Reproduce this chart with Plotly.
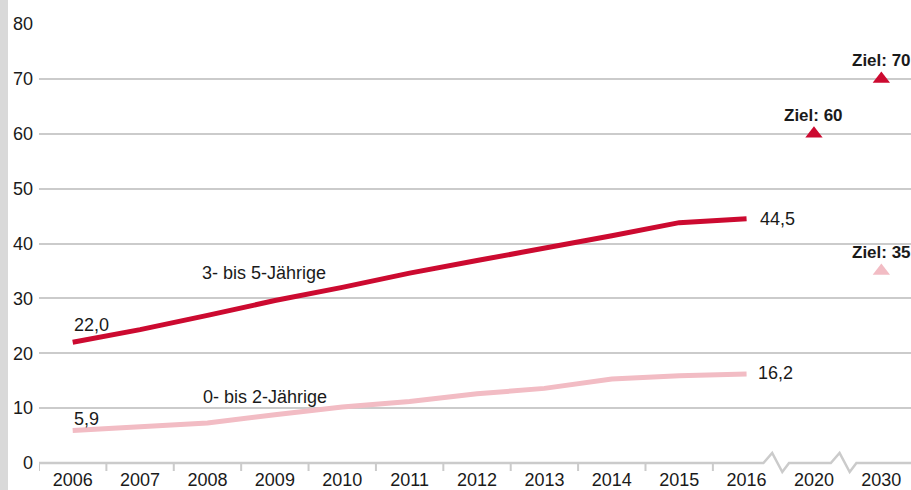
import plotly.graph_objects as go

# Betreuungsquoten nach Altersgruppe, in Prozent
years = ["2006", "2007", "2008", "2009", "2010", "2011", "2012",
         "2013", "2014", "2015", "2016", "2020", "2030"]
hist_years = years[:11]
age_3_5 = [22.0, 24.3, 26.9, 29.6, 32.0, 34.6, 36.9, 39.1, 41.4, 43.8, 44.5]
age_0_2 = [5.9, 6.5, 7.3, 8.8, 10.2, 11.2, 12.6, 13.6, 15.3, 15.9, 16.2]

# Zielwerte
goal_3_5_years = ["2020", "2030"]
goal_3_5 = [60, 70]
goal_0_2_years = ["2030"]
goal_0_2 = [35]

y_ticks = [0, 10, 20, 30, 40, 50, 60, 70, 80]

RED = "#cc0a30"
PINK = "#f2bcc4"
GRID = "#cbcbcb"
TEXT = "#1a1a1a"
FONT = "Liberation Sans, Arial, sans-serif"

W, H = 911, 490
L, R, T, B = 39, 0, 24, 27
plot_w = W - L - R
plot_h = H - T - B
x_range = [-0.5, 12.44]


def cat(label):
    """Serial number of a category on the x axis."""
    return years.index(label)


def fmt(v):
    return f"{v:.1f}".replace(".", ",")


fig = go.Figure()

fig.add_trace(go.Scatter(x=hist_years, y=age_3_5, mode="lines",
                         line=dict(color=RED, width=5), hoverinfo="skip"))
fig.add_trace(go.Scatter(x=hist_years, y=age_0_2, mode="lines",
                         line=dict(color=PINK, width=5), hoverinfo="skip"))
fig.add_trace(go.Scatter(x=goal_3_5_years, y=goal_3_5, mode="markers",
                         marker=dict(symbol="triangle-up", size=15, color=RED),
                         hoverinfo="skip"))
fig.add_trace(go.Scatter(x=goal_0_2_years, y=goal_0_2, mode="markers",
                         marker=dict(symbol="triangle-up", size=15, color=PINK),
                         hoverinfo="skip"))

ann = []
# first / last values
ann.append(dict(x=cat(hist_years[0]), y=age_3_5[0], text=fmt(age_3_5[0]),
                xanchor="left", yanchor="middle", xshift=-1, yshift=17))
ann.append(dict(x=cat(hist_years[0]), y=age_0_2[0], text=fmt(age_0_2[0]),
                xanchor="left", yanchor="middle", xshift=-1, yshift=12))
ann.append(dict(x=cat(hist_years[-1]), y=age_3_5[-1], text=fmt(age_3_5[-1]),
                xanchor="left", yanchor="middle", xshift=11, yshift=0))
ann.append(dict(x=cat(hist_years[-1]), y=age_0_2[-1], text=fmt(age_0_2[-1]),
                xanchor="left", yanchor="middle", xshift=9, yshift=1))
# series names
ann.append(dict(x=2.84, y=34.6, text="3- bis 5-Jährige", xanchor="center", yanchor="middle"))
ann.append(dict(x=2.85, y=12.0, text="0- bis 2-Jährige", xanchor="center", yanchor="middle"))
# goals
for yr, v in list(zip(goal_3_5_years, goal_3_5)) + list(zip(goal_0_2_years, goal_0_2)):
    ann.append(dict(x=cat(yr), y=v, text=f"<b>Ziel: {v}</b>", xanchor="center",
                    yanchor="middle", yshift=18, font=dict(size=17, color=TEXT, family=FONT)))
for a in ann:
    a.setdefault("font", dict(size=18, color=TEXT, family=FONT))
    a.update(showarrow=False, xref="x", yref="y")

# baseline with axis breaks between 2016|2020 and 2020|2030
up = 10 / plot_h
down = -9 / plot_h
breaks = [10.5, 11.5]
path = f"M {x_range[0]},0"
for b in breaks:
    path += f" L {b-0.25},0 L {b-0.12},{up} L {b+0.03},{down} L {b+0.13},0"
path += f" L {x_range[1]},0"

tick_len = 8 / plot_h
tick_path = " ".join(f"M {i-0.5},0 L {i-0.5},{-tick_len}" for i in range(len(hist_years)))

shapes = [
    dict(type="path", path=path, xref="x", yref="paper",
         line=dict(color=GRID, width=2.5), layer="above"),
    dict(type="path", path=tick_path, xref="x", yref="paper",
         line=dict(color=GRID, width=2), layer="above"),
    # grey strip at the left page edge
    dict(type="rect", xref="paper", yref="paper",
         x0=-L / plot_w, x1=-(L - 8) / plot_w, y0=-B / plot_h - 0.01, y1=1 + T / plot_h + 0.01,
         fillcolor="#d9d9d9", line=dict(width=0), layer="below"),
]

fig.update_layout(
    width=W, height=H,
    margin=dict(l=L, r=R, t=T, b=B, pad=0),
    paper_bgcolor="white", plot_bgcolor="white",
    showlegend=False,
    font=dict(family=FONT, size=18, color=TEXT),
    annotations=ann,
    shapes=shapes,
    xaxis=dict(type="category", categoryorder="array", categoryarray=years,
               range=x_range, showgrid=False, showline=False, zeroline=False,
               ticks="", tickfont=dict(size=18, color=TEXT, family=FONT),
               ticklabelstandoff=4, fixedrange=True),
    yaxis=dict(range=[0, 80], tickvals=y_ticks, showgrid=True, gridcolor=GRID,
               gridwidth=2, zeroline=True, zerolinecolor="white", zerolinewidth=4,
               showline=False, ticks="", tickfont=dict(size=18, color=TEXT, family=FONT),
               ticklabelstandoff=5, fixedrange=True),
)

fig.write_html("out.html")
